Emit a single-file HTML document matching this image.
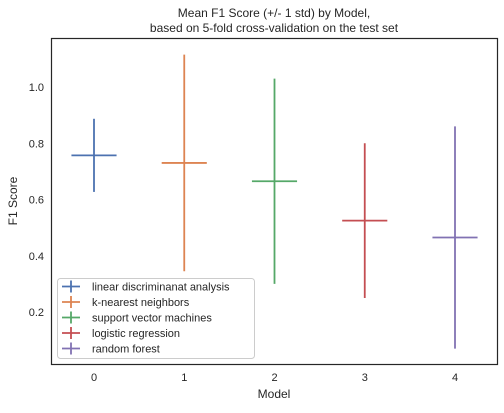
<!DOCTYPE html>
<html><head><meta charset="utf-8"><style>
body{margin:0;background:#fff;}
svg{font-family:"Liberation Sans","DejaVu Sans",sans-serif;}
</style></head><body>
<svg id="chart" width="504" height="408" xmlns="http://www.w3.org/2000/svg">
<rect width="504" height="408" fill="#fff"/>
<text x="274" y="17" text-anchor="middle" font-size="12" fill="#262626">Mean F1 Score (+/- 1 std) by Model,</text>
<text x="274" y="32" text-anchor="middle" font-size="12" fill="#262626">based on 5-fold cross-validation on the test set</text>
<text x="274" y="398" text-anchor="middle" font-size="12" fill="#262626">Model</text>
<text transform="translate(17,201) rotate(-90)" text-anchor="middle" font-size="12" fill="#262626">F1 Score</text>
<g id="marks"></g>
<rect x="51.5" y="38.5" width="446" height="326" fill="none" stroke="#262626" stroke-width="1.2"/>
<g id="legend"></g>
</svg>
<script>
const models = [0,1,2,3,4];
const names = ["linear discriminanat analysis","k-nearest neighbors","support vector machines","logistic regression","random forest"];
const means = [0.757,0.73,0.665,0.525,0.465];
const stds = [0.13,0.385,0.365,0.275,0.395];
const yTicks = [0.2,0.4,0.6,0.8,1.0];
const colors = ["#4c72b0","#dd8452","#55a868","#c44e52","#8172b3"];
const NS="http://www.w3.org/2000/svg";
const xs = v => 94 + v*90.25;
const ys = v => 87 + (1.0 - v)*281.25;
const svg=document.getElementById('chart');
const marks=document.getElementById('marks');
function mk(tag,attrs,parent){const e=document.createElementNS(NS,tag);for(const k in attrs)e.setAttribute(k,attrs[k]);parent.appendChild(e);return e;}
yTicks.forEach(t=>{
  const tx=mk('text',{x:44,y:ys(t)+4,'text-anchor':'end','font-size':11,fill:'#262626'},svg);
  tx.textContent=t.toFixed(1);
  
  
});
models.forEach(m=>{
  const tx=mk('text',{x:xs(m),y:381,'text-anchor':'middle','font-size':11,fill:'#262626'},svg);
  tx.textContent=String(m);
  
  
});
models.forEach((m,i)=>{
  const g=mk('g',{},marks);
  
  
  mk('line',{x1:xs(m),x2:xs(m),y1:ys(means[i]+stds[i]),y2:ys(means[i]-stds[i]),stroke:colors[i],'stroke-width':1.8},g);
  mk('line',{x1:xs(m-0.25),x2:xs(m+0.25),y1:ys(means[i]),y2:ys(means[i]),stroke:colors[i],'stroke-width':1.8},g);
});
const lg=document.getElementById('legend');
const box=mk('rect',{x:57.5,y:278.5,width:197,height:80,rx:3,fill:'#fff','fill-opacity':0.8,stroke:'#ccc'},lg);


names.forEach((n,i)=>{
  const y=286.5+i*15.5;
  const g=mk('g',{},lg);
  
  
  mk('line',{x1:62,x2:80,y1:y,y2:y,stroke:colors[i],'stroke-width':1.8},g);
  mk('line',{x1:71,x2:71,y1:y-6,y2:y+6,stroke:colors[i],'stroke-width':1.8},g);
  const t=mk('text',{x:92,y:y+4,'font-size':11,fill:'#262626'},g);
  t.textContent=n;
});
</script>
</body></html>
